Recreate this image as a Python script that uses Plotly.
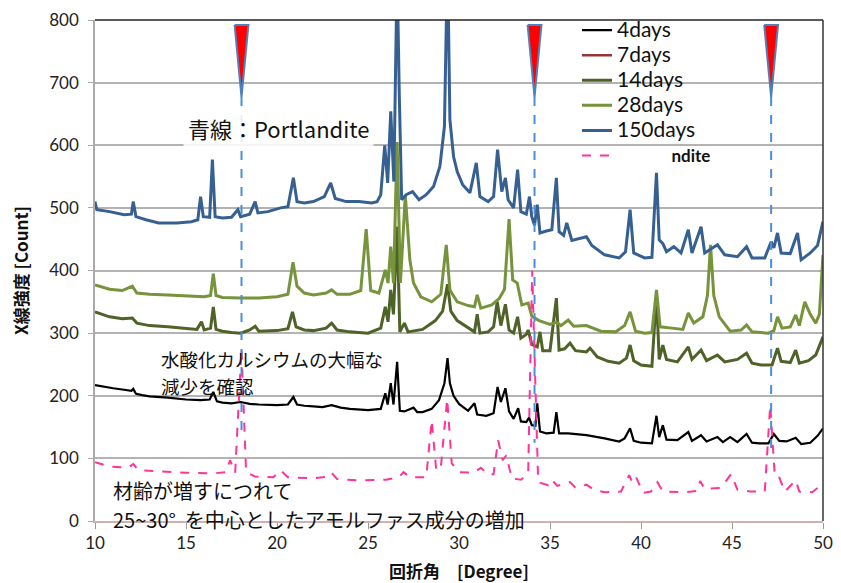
import plotly.graph_objects as go

# ---------------- data ----------------
series_names = ["4days", "7days", "14days", "28days", "150days", "Portlandite"]

d4_x = [10.0, 10.5, 11.0, 11.5, 12.0, 12.1, 12.25, 12.6, 13.0, 14.0, 15.0, 15.8, 16.3, 16.5, 16.7, 17.0, 17.5, 18.0,
        18.5, 19.0, 20.0, 20.6, 20.9, 21.1, 21.5, 22.0, 22.5, 23.0, 23.5, 24.0, 25.0, 25.7, 25.95, 26.08, 26.25, 26.4,
        26.6, 26.75, 27.0, 27.5, 27.7, 28.0, 28.5, 28.9, 29.2, 29.37, 29.5, 29.7, 30.0, 30.5, 30.85, 31.0, 31.5, 31.9,
        32.12, 32.3, 32.55, 32.75, 33.0, 33.25, 33.4, 33.7, 33.85, 34.0, 34.2, 34.3, 34.45, 34.8, 35.2, 35.35, 35.5,
        36.0, 37.0, 38.0, 38.8, 39.1, 39.4, 39.6, 40.0, 40.6, 40.85, 41.0, 41.2, 41.4, 42.0, 42.6, 42.8, 43.3, 43.6,
        44.2, 44.5, 44.9, 45.3, 45.8, 46.1, 46.5, 47.0, 47.3, 47.6, 48.0, 48.5, 48.8, 49.3, 49.7, 50.0]
d4_y = [217, 214, 212, 210, 208, 211, 203, 201, 199, 197, 194, 193, 194, 206, 191, 189, 188, 190,
        187, 186, 185, 186, 198, 186, 184, 183, 182, 185, 181, 179, 177, 179, 204, 186, 220, 186,
        254, 176, 175, 181, 174, 174, 179, 193, 220, 260, 220, 200, 187, 176, 188, 170, 168, 172,
        214, 190, 212, 175, 163, 180, 159, 158, 165, 153, 152, 188, 143, 140, 141, 174, 140,
        140, 137, 132, 127, 132, 148, 128, 125, 124, 168, 134, 153, 130, 129, 142, 128, 137, 127,
        134, 126, 134, 126, 139, 125, 124, 124, 139, 128, 127, 133, 123, 125, 136, 148]

# 7days: listed in the legend, no curve visible in the picture
d7_x = [None]
d7_y = [None]

d14_x = [10.0, 10.8, 11.5, 12.05, 12.3, 13.0, 14.0, 15.0, 15.6, 15.85, 16.0, 16.35, 16.5, 16.65, 17.0, 17.5, 18.0,
         18.5, 18.8, 19.0, 20.0, 20.6, 20.85, 21.05, 21.5, 22.0, 22.7, 23.0, 23.3, 24.0, 25.0, 25.7, 25.95, 26.1,
         26.25, 26.4, 26.6, 26.75, 27.0, 27.2, 28.0, 28.7, 29.1, 29.37, 29.55, 29.9, 30.4, 30.85, 31.0, 31.15, 31.6,
         31.9, 32.1, 32.3, 32.55, 32.75, 33.0, 33.22, 33.4, 33.7, 33.8, 34.0, 34.3, 34.45, 34.6, 35.0, 35.35, 35.5,
         35.8, 36.1, 36.4, 37.0, 37.2, 37.6, 38.2, 38.8, 39.2, 39.4, 39.6, 40.0, 40.6, 40.85, 41.0, 41.2, 41.4, 42.0,
         42.6, 42.8, 43.3, 43.6, 44.2, 44.6, 45.3, 45.8, 46.1, 46.6, 47.2, 47.5, 47.7, 48.2, 48.5, 48.7, 49.2, 49.6,
         50.0]
d14_y = [334, 326, 323, 324, 316, 312, 310, 308, 306, 318, 305, 308, 342, 306, 303, 301, 300,
         305, 311, 303, 304, 307, 334, 310, 305, 304, 308, 316, 305, 302, 300, 308, 342, 318,
         369, 330, 470, 302, 316, 302, 306, 320, 335, 378, 335, 320, 310, 302, 330, 300, 302,
         310, 350, 312, 346, 305, 300, 326, 292, 298, 305, 282, 278, 302, 272, 272, 356, 273,
         275, 284, 272, 270, 276, 262, 255, 252, 260, 281, 256, 249, 247, 362, 258, 281, 258, 254,
         278, 258, 273, 256, 265, 254, 258, 268, 252, 249, 249, 276, 255, 253, 273, 252, 256, 265,
         294]

d28_x = [10.0, 10.8, 11.5, 12.05, 12.3, 13.0, 14.0, 15.0, 16.0, 16.35, 16.5, 16.65, 17.0, 18.0, 19.0, 20.0, 20.6,
         20.88, 21.1, 21.5, 22.0, 22.7, 23.0, 23.3, 24.0, 24.6, 24.9, 25.15, 25.6, 25.95, 26.1, 26.25, 26.4, 26.6,
         26.78, 27.05, 27.3, 27.5, 27.9, 28.5, 29.0, 29.3, 29.5, 29.9, 30.5, 30.85, 31.0, 31.2, 31.8, 32.2, 32.5,
         32.75, 32.95, 33.2, 33.45, 33.8, 34.0, 34.4, 35.0, 35.35, 35.6, 36.0, 36.3, 37.0, 37.8, 38.6, 39.1, 39.4,
         39.7, 40.2, 40.6, 40.85, 41.05, 41.7, 42.3, 42.6, 42.9, 43.4, 43.65, 43.82, 44.0, 44.3, 44.9, 45.5, 45.8,
         46.1, 47.0, 47.3, 47.5, 47.75, 48.2, 48.5, 48.7, 49.0, 49.3, 49.6, 49.8, 50.0]
d28_y = [377, 370, 368, 375, 364, 362, 361, 359, 358, 360, 395, 360, 357, 356, 356, 358, 362,
         413, 375, 364, 361, 364, 369, 362, 362, 368, 466, 368, 364, 401, 380, 438, 380, 605,
         380, 520, 417, 380, 358, 350, 362, 441, 369, 350, 344, 342, 361, 340, 345, 355, 370,
         482, 385, 380, 345, 348, 327, 320, 314, 318, 312, 321, 311, 312, 303, 302, 312, 334,
         303, 300, 301, 369, 310, 308, 306, 332, 316, 326, 360, 441, 360, 326, 303, 305, 313,
         302, 300, 304, 326, 308, 310, 329, 312, 350, 330, 316, 330, 425]

d150_x = [10.0, 10.1, 10.8, 11.6, 12.0, 12.1, 12.25, 12.8, 13.5, 14.5, 15.3, 15.65, 15.8, 15.95, 16.3, 16.45, 16.6,
          17.0, 17.5, 17.85, 18.0, 18.5, 18.8, 18.95, 19.5, 20.2, 20.6, 20.9, 21.1, 21.5, 22.0, 22.6, 22.95, 23.2,
          23.8, 24.5, 25.2, 25.5, 25.7, 25.92, 26.08, 26.25, 26.42, 26.6, 26.72, 26.85, 27.1, 27.45, 27.8, 28.2,
          28.6, 28.95, 29.2, 29.37, 29.5, 29.7, 29.9, 30.2, 30.6, 30.95, 31.15, 31.6, 31.9, 32.12, 32.35, 32.55,
          32.7, 33.0, 33.22, 33.4, 33.7, 33.87, 34.0, 34.15, 34.3, 34.45, 34.8, 35.1, 35.35, 35.5, 35.75, 35.92,
          36.2, 36.7, 37.0, 37.3, 38.0, 38.8, 39.15, 39.4, 39.6, 40.2, 40.6, 40.85, 41.0, 41.2, 41.4, 41.8, 42.2,
          42.6, 42.8, 43.3, 43.5, 44.2, 44.6, 45.3, 45.8, 46.1, 46.8, 47.15, 47.3, 47.5, 47.7, 48.2, 48.6, 48.8,
          49.3, 49.7, 50.0]
d150_y = [510, 497, 494, 489, 490, 510, 486, 481, 476, 476, 478, 481, 518, 486, 485, 577, 486,
          484, 485, 497, 486, 490, 510, 492, 494, 500, 502, 548, 510, 508, 510, 518, 540, 515,
          510, 510, 508, 510, 521, 600, 540, 654, 542, 880, 680, 513, 521, 526, 513, 521,
          534, 566, 630, 900, 641, 582, 558, 537, 524, 572, 518, 510, 518, 593, 526, 548,
          513, 500, 561, 494, 490, 518, 486, 472, 505, 460, 463, 465, 548, 462, 456, 476,
          448, 452, 454, 440, 425, 420, 430, 497, 428, 420, 421, 556, 449, 443, 430, 438, 428,
          465, 428, 470, 428, 441, 425, 422, 438, 420, 420, 446, 436, 460, 428, 427, 460, 417,
          428, 440, 478]

port_x = [10.0, 10.8, 11.8, 12.1, 12.4, 13.5, 15.0, 16.5, 17.2, 17.42, 17.7, 18.05, 18.3, 18.8, 19.8, 20.2, 20.6,
          22.0, 22.8, 23.0, 23.3, 24.5, 26.0, 26.7, 26.95, 27.3, 28.2, 28.5, 28.75, 29.0, 29.35, 29.6, 30.0, 30.8,
          31.2, 31.6, 31.9, 32.15, 32.4, 32.6, 32.9, 33.4, 33.8, 34.02, 34.35, 34.9, 35.1, 35.4, 36.1, 36.4, 37.0,
          37.4, 38.0, 38.9, 39.35, 39.55, 39.75, 40.1, 40.55, 40.9, 41.2, 42.5, 43.1, 43.25, 43.5, 44.4, 44.95,
          45.3, 46.0, 46.8, 47.1, 47.35, 47.55, 47.9, 48.5, 48.7, 49.4, 49.8, 50.0]
port_y = [94, 87, 85, 91, 81, 79, 77, 76, 78, 97, 77, 275, 78, 71, 70, 81, 70,
          68, 71, 77, 67, 65, 66, 70, 78, 70, 70, 161, 81, 85, 195, 92, 78, 77,
          85, 74, 75, 129, 97, 105, 68, 66, 75, 400, 62, 57, 66, 56, 62, 53, 58,
          50, 46, 47, 73, 60, 69, 45, 47, 62, 47, 46, 48, 64, 51, 53, 75,
          50, 47, 47, 185, 73, 73, 47, 65, 47, 46, 55, 62]

# Portlandite reference peak positions marked with arrows / dashed lines
marker_peaks = [18.05, 34.15, 47.15]

y_ticks = [0, 100, 200, 300, 400, 500, 600, 700, 800]
x_ticks = [10, 15, 20, 25, 30, 35, 40, 45, 50]

# ---------------- figure ----------------
colors = {
    "4days": "#000000",
    "7days": "#943634",
    "14days": "#4f6228",
    "28days": "#77933c",
    "150days": "#376092",
    "Portlandite": "#ff3399",
}

fig = go.Figure()

data = {
    "4days": (d4_x, d4_y),
    "7days": (d7_x, d7_y),
    "14days": (d14_x, d14_y),
    "28days": (d28_x, d28_y),
    "150days": (d150_x, d150_y),
}
widths = {"4days": 2.2, "7days": 2.5, "14days": 3, "28days": 3, "150days": 3}

for name in series_names[:5]:
    xs, ys = data[name]
    fig.add_trace(go.Scatter(
        x=xs, y=ys, mode="lines", name=f"<span style='font-size:21px'>{name}</span>",
        line=dict(color=colors[name], width=widths[name]),
    ))

fig.add_trace(go.Scatter(
    x=port_x, y=port_y, mode="lines",
    name="<span style='color:white;font-size:21px'>Portla</span><b>ndite</b>",
    line=dict(color=colors["Portlandite"], width=2, dash="dash"),
))

# dashed vertical guide lines and red arrow markers at the Portlandite peaks
line_bottoms = [140, 125, 108]
arrow_top, arrow_tip, half_w = 792, 677, 0.38
for p, bot in zip(marker_peaks, line_bottoms):
    fig.add_trace(go.Scatter(
        x=[p, p], y=[arrow_tip, bot], mode="lines", showlegend=False,
        line=dict(color="#4a8fd8", width=2, dash="dash"), hoverinfo="skip",
    ))
    fig.add_trace(go.Scatter(
        x=[p - half_w, p + half_w, p, p - half_w],
        y=[arrow_top, arrow_top, arrow_tip, arrow_top],
        mode="lines", fill="toself", fillcolor="#ff0000", showlegend=False,
        line=dict(color="#4f81bd", width=2), hoverinfo="skip",
    ))

jp = "Noto Sans CJK JP"
fig.add_annotation(
    x=(183 - 95) / 728, y=(521 - 128) / 501, xref="paper", yref="paper",
    xanchor="left", yanchor="middle", showarrow=False,
    text="青線：Portlandite", font=dict(family=jp, size=22, color="#111"),
    bgcolor="rgba(255,255,255,0.85)", borderpad=4,
)
note_lines = [
    ("水酸化カルシウムの大幅な", 13.55, 259, 18.5),
    ("減少を確認", 13.55, 216, 18.5),
    ("材齢が増すにつれて", 10.95, 48, 20),
    ("25~30°  を中心としたアモルファス成分の増加", 10.95, 2, 20),
]
for txt, xx, yy, fs in note_lines:
    fig.add_annotation(
        x=xx, y=yy, xref="x", yref="y", xanchor="left", yanchor="middle",
        showarrow=False, align="left", text=txt, borderpad=0,
        font=dict(family=jp, size=fs, color="#111"),
    )

# top & right frame lines
fig.add_shape(type="line", xref="paper", yref="paper", x0=0, x1=1, y0=1, y1=1,
              line=dict(color="#222", width=1.5))
fig.add_shape(type="line", xref="paper", yref="paper", x0=1, x1=1, y0=0, y1=1,
              line=dict(color="#333", width=1.5))

# the page adds an 8px body margin, so the figure is 8px smaller and offsets shifted
fig.update_layout(
    width=833, height=575,
    margin=dict(l=87, r=18, t=12, b=62, autoexpand=False),
    paper_bgcolor="white", plot_bgcolor="white",
    showlegend=True,
    legend=dict(
        x=(577 - 95) / 728, y=1.015, xanchor="left", yanchor="top",
        bgcolor="rgba(0,0,0,0)", font=dict(family="Lato", size=17, color="#111"),
        itemwidth=30, tracegroupgap=0,
    ),
    xaxis=dict(
        range=[10, 50], tickvals=x_ticks, ticks="outside", ticklen=6, tickcolor="#999",
        showgrid=False, showline=True, linecolor="#d0b0b0", linewidth=2, zeroline=False,
        tickfont=dict(family="Lato", size=17, color="#222"), automargin=False,
        title=dict(text="回折角　[Degree]", font=dict(family=jp, size=17, color="#111", weight="bold"),
                   standoff=15),
    ),
    yaxis=dict(
        range=[0, 800], tickvals=y_ticks, ticks="outside", ticklen=5, tickcolor="#aaa",
        showgrid=True, gridcolor="#b3b3b3", gridwidth=1.5,
        showline=True, linecolor="#aaa", linewidth=1.5, zeroline=False,
        tickfont=dict(family="Lato", size=17, color="#222"), ticklabelstandoff=6, automargin=False,
        title=dict(text="X線強度 [Count]", font=dict(family=jp, size=17, color="#111", weight="bold"),
                   standoff=19),
    ),
)

fig.write_html("out.html")
